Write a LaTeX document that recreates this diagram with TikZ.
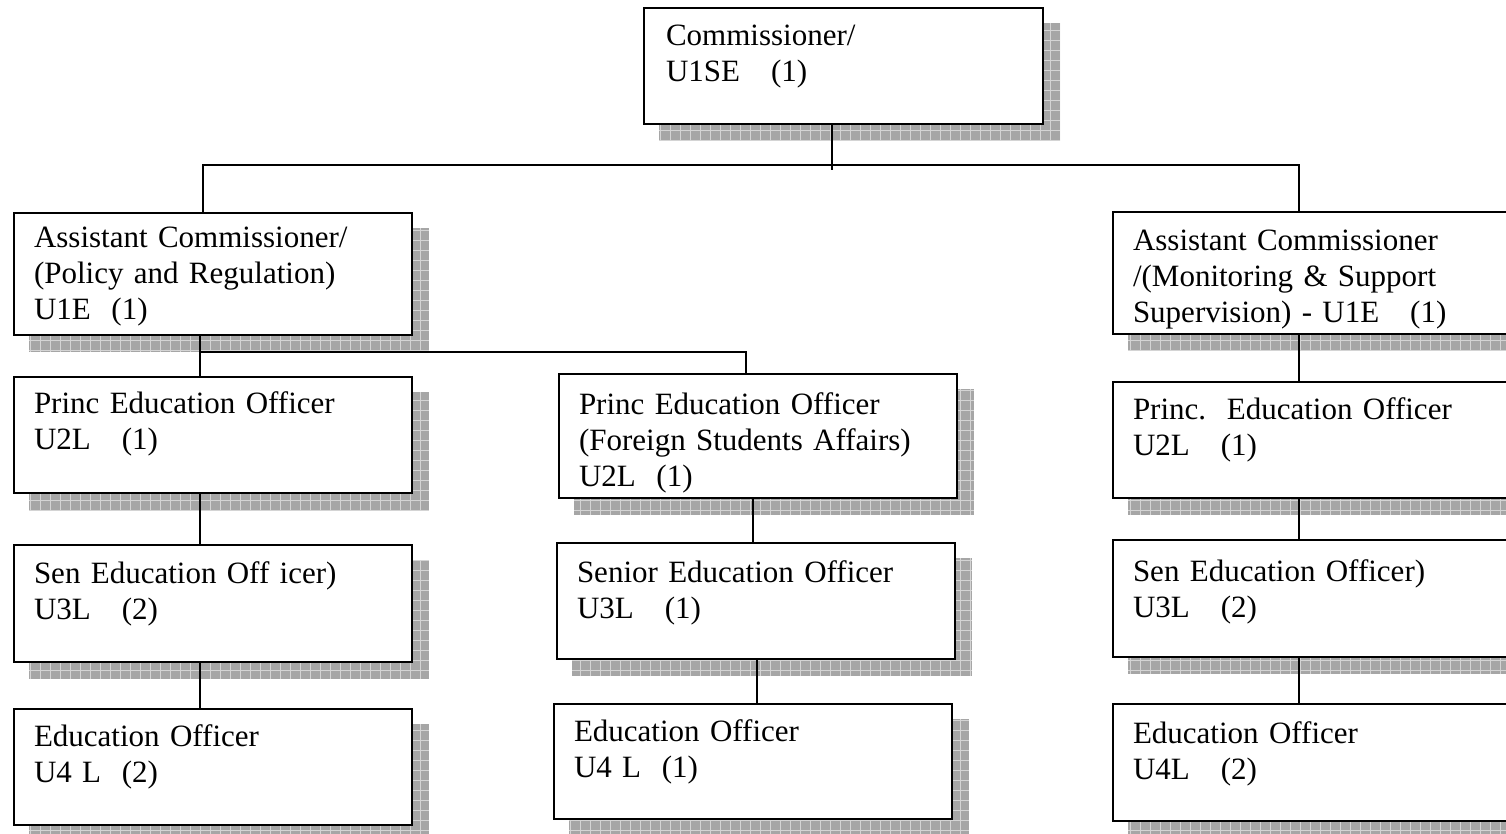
\documentclass[tikz,border=0pt]{standalone}
\usepackage{fontspec}
\setmainfont{Liberation Serif}
\usetikzlibrary{backgrounds}

\tikzset{
  post/.style={draw, line width=1pt, fill=white, anchor=north west, align=left,
    inner sep=0pt, inner xsep=10pt, text width=179pt, text height=18.5pt,
    font=\fontsize{15.5}{18}\selectfont},
  shadowgrid/.style={fill=black!35, path picture={
    \draw[black!17, line width=0.4pt, step=5pt] (path picture bounding box.south west)
      grid (path picture bounding box.north east);}},
  link/.style={line width=0.8pt}
}

\begin{document}
\begin{tikzpicture}[x=0.5pt, y=-0.5pt]
\useasboundingbox (0,0) rectangle (1506,834);
\clip (0,0) rectangle (1506,834);

% top
\node[post, inner xsep=11pt, text width=177.5pt, text height=19pt, text depth=39pt] (comm) at (643,7)
  {Commissioner/\\U1SE~~~(1)};

% left column
\node[post, text height=17.5pt, text depth=43.5pt] (acL) at (13,212)
  {Assistant Commissioner/\\(Policy and Regulation)\\U1E~~(1)};
\node[post, text depth=39.5pt] (peoL) at (13,376)
  {Princ Education Officer\\U2L~~~(1)};
\node[post, text height=19pt, text depth=39.5pt] (senL) at (13,544)
  {Sen Education Off icer)\\U3L~~~(2)};
\node[post, text depth=39.5pt] (eoL) at (13,708)
  {Education Officer\\U4 L~~(2)};

% middle column
\node[post, text height=20.5pt, text depth=41.5pt] (peoF) at (558,373)
  {Princ Education Officer\\(Foreign Students Affairs)\\U2L~~(1)};
\node[post, text height=19.5pt, text depth=38.5pt] (senM) at (556,542)
  {Senior Education Officer\\U3L~~~(1)};
\node[post, text depth=39pt] (eoM) at (553,703)
  {Education Officer\\U4 L~~(1)};

% right column
\node[post, text height=19.5pt, text depth=41.5pt] (acR) at (1112,211)
  {Assistant Commissioner\\/(Monitoring \& Support\\Supervision) - U1E~~~(1)};
\node[post, text height=19pt, text depth=39pt] (peoR) at (1112,381)
  {Princ.~~Education Officer\\U2L~~~(1)};
\node[post, text height=20.5pt, text depth=38pt] (senR) at (1112,539)
  {Sen Education Officer)\\U3L~~~(2)};
\node[post, text height=19.5pt, text depth=39pt] (eoR) at (1112,703)
  {Education Officer\\U4L~~~(2)};

\coordinate (bus) at (832,170);
\coordinate (busL) at (203,165);
\coordinate (busR) at (1299,165);
\coordinate (colL) at (200,352);
\coordinate (tickF) at (746,352);
\coordinate (colM) at (753,0);
\coordinate (colM2) at (757,0);

\begin{scope}[on background layer]
  % shadows
  \foreach \n in {comm,acL,peoL,senL,eoL,peoF,senM,eoM,acR,peoR,senR,eoR}
    \path[shadowgrid] ([shift={(16,16)}]\n.north west) rectangle ([shift={(16,16)}]\n.south east);
  % lines
  \draw[link] (comm.south -| bus) -- (bus);
  \draw[link] (acL.north -| busL) -- (busL) -- (busR) -- (acR.north -| busR);
  \draw[link] (acL.south -| colL) -- (peoL.north -| colL);
  \draw[link] (colL) -- (tickF) -- (peoF.north -| tickF);
  \draw[link] (peoL.south -| colL) -- (senL.north -| colL);
  \draw[link] (senL.south -| colL) -- (eoL.north -| colL);
  \draw[link] (peoF.south -| colM) -- (senM.north -| colM);
  \draw[link] (senM.south -| colM2) -- (eoM.north -| colM2);
  \draw[link] (acR.south -| busR) -- (peoR.north -| busR);
  \draw[link] (peoR.south -| busR) -- (senR.north -| busR);
  \draw[link] (senR.south -| busR) -- (eoR.north -| busR);
\end{scope}
\end{tikzpicture}
\end{document}
